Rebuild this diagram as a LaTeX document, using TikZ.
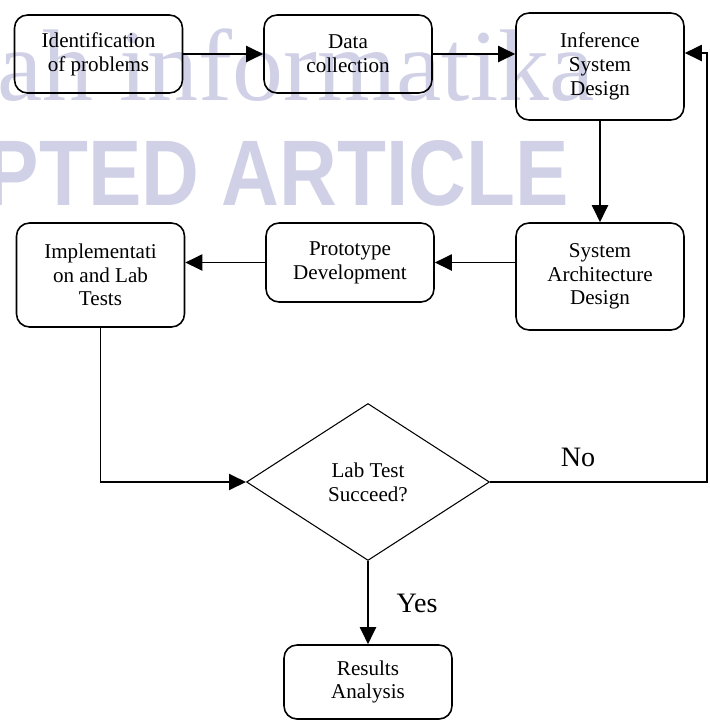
\documentclass[tikz,border=0pt]{standalone}
\usepackage{fontspec}
\setmainfont{Liberation Serif}
\newfontfamily\marcafont{Liberation Sans}
\usetikzlibrary{shapes.geometric,arrows.meta}
\definecolor{marca}{RGB}{208,209,230}
\tikzset{
  etapa/.style={draw, line width=0.9pt, rounded corners=0.26cm, minimum width=3.36cm,
    align=center, inner sep=2pt, font=\fontsize{12}{13.5}\selectfont},
  decisao/.style={draw, line width=0.6pt, shape=diamond, aspect=1.55, inner sep=0pt,
    minimum width=4.86cm, minimum height=3.14cm, align=center, font=\fontsize{12}{13.5}\selectfont},
  fluxo/.style={->, line width=1.1pt},
  resposta/.style={font=\fontsize{16}{18}\selectfont}
}
\begin{document}
\begin{tikzpicture}[x=0.02cm, y=-0.02cm, >={Triangle[length=0.34cm,width=0.32cm]}] %Desenho em pixels
	\useasboundingbox (0,0) rectangle (710,721);
		%Marca d'agua
	\node[anchor=base east, inner sep=0pt, text=marca, font=\fontsize{58}{58}\selectfont] (marca1) at (595,100) {ah informatika};
	\node[anchor=base east, inner sep=0pt, text=marca, font=\marcafont\bfseries\fontsize{53}{53}\selectfont] (marca2) at (569,205) {\scalebox{0.86}[1]{PTED ARTICLE}};
		%Etapas
	\node[etapa, minimum height=1.56cm] (ident) at (98.5,54) {Identification\\of problems};
	\node[etapa, minimum height=1.56cm] (dados) at (348,54) {Data\\collection};
	\node[etapa, minimum height=2.14cm] (infer) at (600,66.5) {Inference\\System\\Design};
	\node[etapa, minimum height=2.14cm] (arq) at (600,276.5) {System\\Architecture\\Design};
	\node[etapa, minimum height=1.58cm] (proto) at (350,262.5) {Prototype\\Development};
	\node[etapa, minimum height=2.08cm] (impl) at (100.5,275) {Implementati\\on and Lab\\Tests};
	\node[decisao] (teste) at (368,482) {Lab Test\\Succeed?};
	\node[etapa, minimum height=1.48cm] (result) at (368,682) {Results\\Analysis};
	\coordinate (volta) at (707,53);
		%Setas
	\draw[fluxo] (ident.east) -- (dados.west);
	\draw[fluxo] (dados.east) -- (infer.west |- dados.east);
	\draw[fluxo] (infer.south) -- (arq.north);
	\draw[fluxo] (arq.west |- proto.east) -- (proto.east);
	\draw[fluxo] (proto.west) -- (proto.west -| impl.east);
	\draw[fluxo] (impl.south) |- (teste.west);
	\draw[fluxo] (teste.east) -| (volta) -- (volta -| infer.east);
	\draw[fluxo] (teste.south) -- (result.north);
		%Respostas
	\node[resposta] (nao) at (578,457) {No};
	\node[resposta] (sim) at (417,603) {Yes};
\end{tikzpicture}
\end{document}
